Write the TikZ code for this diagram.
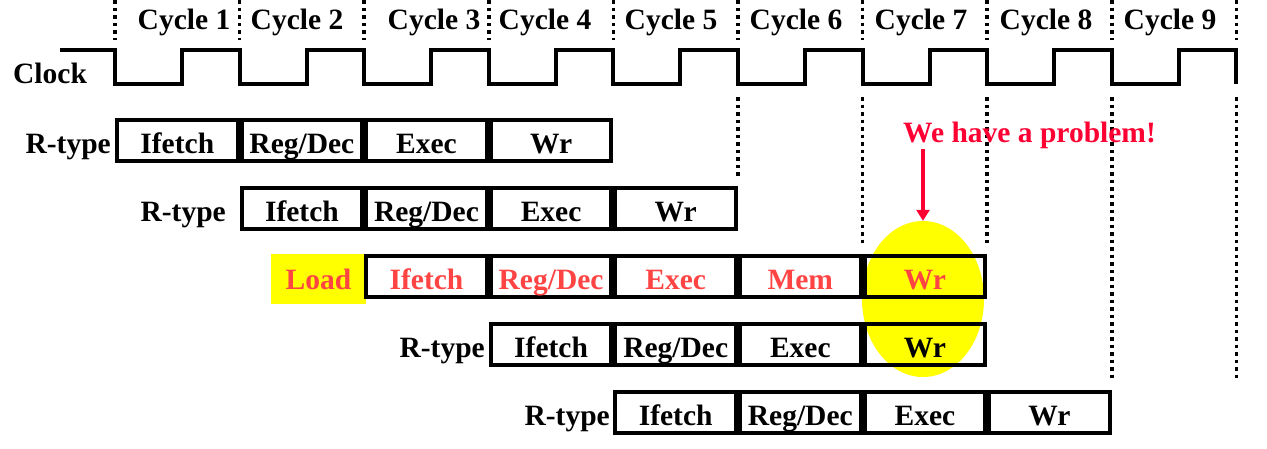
\documentclass[tikz,border=0pt]{standalone}
\usepackage{fontspec}
\setmainfont{Liberation Serif}
\usetikzlibrary{shapes.geometric,arrows.meta}

\definecolor{loadred}{RGB}{255,68,68}
\definecolor{alertred}{RGB}{255,0,51}
\definecolor{hiyellow}{RGB}{255,255,0}

\tikzset{
  stage/.style={draw, line width=4pt, minimum width=120.6pt, minimum height=41pt,
    inner sep=0pt, outer sep=0pt, text height=26pt, text depth=1pt},
  rowlabel/.style={inner sep=0pt, anchor=base east},
  clockline/.style={line width=4pt},
  dotline/.style={line width=3.5pt, dash pattern=on 3.5pt off 4pt},
}

\begin{document}
\begin{tikzpicture}[x=1pt, y=-1pt,
    every node/.style={font=\fontsize{29.5}{31}\selectfont\bfseries}]
    \useasboundingbox (0,0) rectangle (1267,448);

    % Cycle labels and boundaries
    \foreach \n/\x in {1/184, 2/297, 3/434, 4/545, 5/671, 6/796, 7/921, 8/1046, 9/1170}
        \node[inner sep=0pt, anchor=base] (cyc\n) at (\x,29) {Cycle \n};
    \foreach \i in {0,...,9}
        \draw[dotline] ({115+124.6*\i},0) -- ({115+124.6*\i},40);

    % Clock
    \node[inner sep=0pt, anchor=base west] (clock) at (13,83) {Clock};
    \draw[clockline] (60,50) foreach \i in {0,...,8} {
        -- ({115+124.6*\i},50) -- ({115+124.6*\i},83.5)
        -- ({182+124.6*\i},83.5) -- ({182+124.6*\i},50)}
        -- (1236.4,50) -- (1236.4,83.5);

    % Lower boundaries
    \draw[dotline] (738,97) -- (738,176);
    \draw[dotline] (862.6,97) -- (862.6,243);
    \draw[dotline] (987.2,97) -- (987.2,243);
    \draw[dotline] (1111.8,97) -- (1111.8,379);
    \draw[dotline] (1236.4,97) -- (1236.4,379);

    % Highlight
    \node[ellipse, fill=hiyellow, inner sep=0pt, minimum width=122pt,
        minimum height=156pt] (hazard) at (923,299) {};
    \node[inner sep=1pt, anchor=base west, text=alertred] (problem) at (902,142)
        {We have a problem!};
    \draw[alertred, line width=4pt, -{Triangle[length=11pt, width=13pt]}]
        (problem.south -| hazard.north) -- (hazard.north);

    % Row 1
    \node[rowlabel] (type1) at (111,153) {R-type};
    \node[stage] (if1) at (177.3,140.5) {Ifetch};
    \node[stage] (rd1) at (301.9,140.5) {Reg/Dec};
    \node[stage] (ex1) at (426.5,140.5) {Exec};
    \node[stage] (wr1) at (551.1,140.5) {Wr};

    % Row 2
    \node[rowlabel] (type2) at (226,221) {R-type};
    \node[stage] (if2) at (301.9,208.5) {Ifetch};
    \node[stage] (rd2) at (426.5,208.5) {Reg/Dec};
    \node[stage] (ex2) at (551.1,208.5) {Exec};
    \node[stage] (wr2) at (675.7,208.5) {Wr};

    % Row 3: the load
    \node[fill=hiyellow, text=loadred, inner sep=0pt, minimum width=95pt,
        minimum height=50pt, text height=24pt, text depth=4pt] (load) at (318.5,279) {Load};
    \node[stage, text=loadred] (if3) at (426.5,276.5) {Ifetch};
    \node[stage, text=loadred] (rd3) at (551.1,276.5) {Reg/Dec};
    \node[stage, text=loadred] (ex3) at (675.7,276.5) {Exec};
    \node[stage, text=loadred] (mem3) at (800.3,276.5) {Mem};
    \node[stage, text=loadred] (wr3) at (924.9,276.5) {Wr};

    % Row 4
    \node[rowlabel] (type4) at (485,357) {R-type};
    \node[stage] (if4) at (551.1,344.5) {Ifetch};
    \node[stage] (rd4) at (675.7,344.5) {Reg/Dec};
    \node[stage] (ex4) at (800.3,344.5) {Exec};
    \node[stage] (wr4) at (924.9,344.5) {Wr};

    % Row 5
    \node[rowlabel] (type5) at (610,425) {R-type};
    \node[stage] (if5) at (675.7,412.5) {Ifetch};
    \node[stage] (rd5) at (800.3,412.5) {Reg/Dec};
    \node[stage] (ex5) at (924.9,412.5) {Exec};
    \node[stage] (wr5) at (1049.5,412.5) {Wr};
\end{tikzpicture}
\end{document}
